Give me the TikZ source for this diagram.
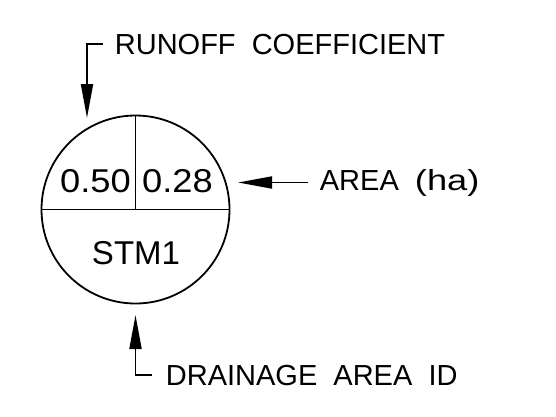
\documentclass[tikz,border=0pt]{standalone}
\usepackage{fontspec}
\setmainfont{Liberation Sans}
\usetikzlibrary{arrows.meta}
\begin{document}
\begin{tikzpicture}[line width=1.8pt,x=1pt,y=-1pt,
	label/.style={inner sep=0pt,anchor=base west,font=\fontsize{29}{29}\selectfont},
	cell/.style={inner sep=0pt,anchor=base,font=\fontsize{33}{33}\selectfont},
	leader/.style={-{Triangle[length=34pt,width=12pt]}}]
\useasboundingbox (0,0) rectangle (556,416);
\node[circle,draw,minimum size=188pt,inner sep=0pt] (C) at (135.5,209.5) {};
\draw (C.west) -- (C.east);
\draw (C.center) -- (C.north);
\node[cell] (coef) at (95.5,192) {\scalebox{1.1}[1]{0.50}};
\node[cell] (ha) at (177.5,192) {\scalebox{1.1}[1]{0.28}};
\node[cell] (id) at (136,264) {STM1};
\node[label] (runoff) at (114,54) {RUNOFF\ \ COEFFICIENT};
\node[label] (area) at (319,190) {AREA\ \ \scalebox{1.25}[1]{(ha)}};
\node[label] (drain) at (165,385) {DRAINAGE\ \ AREA\ \ ID};
\coordinate (rc tip) at (87,118);
\coordinate (area tip) at (238,181);
\coordinate (id tip) at (135.5,315);
\draw[leader] ([xshift=-11]runoff.west) -| (rc tip);
\draw[leader] ([xshift=-11]area.west) -- (area tip |- area.west);
\draw[leader] ([xshift=-13]drain.west) -| (id tip);
\end{tikzpicture}
\end{document}
